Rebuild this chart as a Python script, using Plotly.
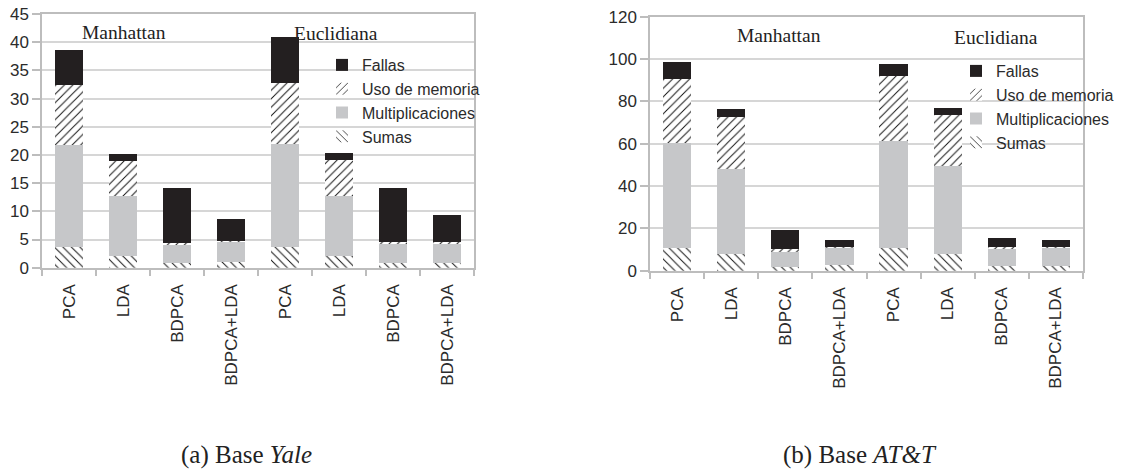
import plotly.graph_objects as go

# Categories and distance groups shown on each panel
methods = ["PCA", "LDA", "BDPCA", "BDPCA+LDA"]
distances = ["Manhattan", "Euclidiana"]
tick_labels = methods * len(distances)

series_names = ["Sumas", "Multiplicaciones", "Uso de memoria", "Fallas"]

# Panel (a): Yale database
yale_sumas = [3.7, 2.1, 0.8, 1.1, 3.7, 2.1, 0.8, 0.8]
yale_mult = [18.1, 10.6, 3.3, 3.5, 18.3, 10.6, 3.5, 3.5]
yale_memoria = [10.6, 6.3, 0.2, 0.2, 10.7, 6.4, 0.2, 0.2]
yale_fallas = [6.2, 1.2, 9.9, 3.8, 8.2, 1.3, 9.7, 4.9]

# Panel (b): AT&T database
att_sumas = [10.7, 8.0, 1.9, 2.5, 10.7, 8.0, 2.0, 2.0]
att_mult = [49.6, 40.0, 7.5, 8.4, 50.8, 41.3, 8.7, 8.9]
att_memoria = [30.4, 24.4, 0.7, 0.4, 30.3, 24.1, 0.5, 0.4]
att_fallas = [7.7, 4.1, 8.9, 3.3, 6.0, 3.6, 4.4, 3.0]

W, H = 1127, 471
GRID = "#d6d6d6"
AXIS = "#bdbdbd"
TXT = "#2b2b2b"
SANS = "Liberation Sans, Arial, sans-serif"
SERIF = "Liberation Serif, Times New Roman, serif"

styles = {
    "Sumas": dict(color="white", pattern=dict(shape="\\", fgcolor="#111111", bgcolor="white",
                                              size=6, solidity=0.16, fillmode="replace")),
    "Multiplicaciones": dict(color="#c6c7c9"),
    "Uso de memoria": dict(color="white", pattern=dict(shape="/", fgcolor="#111111", bgcolor="white",
                                                       size=6, solidity=0.16, fillmode="replace")),
    "Fallas": dict(color="#231f20"),
}

x_pos = list(range(len(tick_labels)))

fig = go.Figure()


def add_panel(values, xa, ya, legend_id):
    for name, vals in zip(series_names, values):
        fig.add_trace(go.Bar(
            x=x_pos, y=vals, name=name, width=0.52,
            marker=dict(line=dict(width=0), **styles[name]),
            xaxis=xa, yaxis=ya, legend=legend_id,
        ))


add_panel([yale_sumas, yale_mult, yale_memoria, yale_fallas], "x", "y", "legend")
add_panel([att_sumas, att_mult, att_memoria, att_fallas], "x2", "y2", "legend2")


def xaxis_style(domain):
    return dict(
        domain=domain, range=[-0.5, len(tick_labels) - 0.5],
        tickmode="array", tickvals=x_pos, ticktext=tick_labels, tickangle=-90,
        ticks="outside", ticklen=8, tickcolor="rgba(0,0,0,0)",
        minor=dict(tickmode="linear", tick0=-0.5, dtick=1, ticks="outside",
                   ticklen=7, tickcolor=AXIS, tickwidth=1.5),
        showgrid=False, zeroline=False, automargin=False,
        showline=True, linecolor=AXIS, linewidth=1.5, mirror=True,
        tickfont=dict(family=SANS, size=17, color=TXT),
        fixedrange=True,
    )


def yaxis_style(domain, top, step, anchor):
    return dict(
        domain=domain, range=[0, top], dtick=step, anchor=anchor,
        ticks="outside", ticklen=8, tickcolor=AXIS, tickwidth=1.5,
        showgrid=True, gridcolor=GRID, gridwidth=1.5, zeroline=False,
        showline=True, linecolor=AXIS, linewidth=1.5, mirror=True,
        automargin=False,
        tickfont=dict(family=SANS, size=17, color=TXT),
        fixedrange=True,
    )


fig.update_layout(
    width=W, height=H,
    margin=dict(l=0, r=0, t=0, b=0, autoexpand=False),
    paper_bgcolor="white", plot_bgcolor="white",
    barmode="stack", bargap=0.48,
    xaxis=dict(anchor="y", **xaxis_style([42 / W, 474 / W])),
    yaxis=yaxis_style([1 - 267.7 / H, 1 - 14 / H], 45, 5, "x"),
    xaxis2=dict(anchor="y2", **xaxis_style([650 / W, 1083 / W])),
    yaxis2=yaxis_style([1 - 270.7 / H, 1 - 16.7 / H], 120, 20, "x2"),
    legend=dict(x=322 / W, y=1 - 48 / H, xanchor="left", yanchor="top",
                traceorder="reversed", bgcolor="rgba(0,0,0,0)",
                font=dict(family=SANS, size=16, color=TXT),
                itemwidth=30, tracegroupgap=0),
    legend2=dict(x=956 / W, y=1 - 54 / H, xanchor="left", yanchor="top",
                 traceorder="reversed", bgcolor="rgba(0,0,0,0)",
                 font=dict(family=SANS, size=16, color=TXT),
                 itemwidth=30, tracegroupgap=0),
    showlegend=True,
)

# Distance labels above each group of bars
group_labels = [
    ("x", "y", 1.02, 41.8, distances[0]),
    ("x", "y", 4.95, 41.6, distances[1]),
    ("x2", "y2", 1.88, 111.3, distances[0]),
    ("x2", "y2", 5.9, 110.0, distances[1]),
]
for xr, yr, xv, yv, txt in group_labels:
    fig.add_annotation(x=xv, y=yv, xref=xr, yref=yr, text=txt, showarrow=False,
                       font=dict(family=SERIF, size=19.5, color="#222222"),
                       xanchor="center", yanchor="middle")

# Panel captions
captions = [
    (246.5, "(a) Base <i>Yale</i>"),
    (859.5, "(b) Base <i>AT&amp;T</i>"),
]
for cx, txt in captions:
    fig.add_annotation(x=cx / W, y=1 - 455 / H, xref="paper", yref="paper", text=txt,
                       showarrow=False, font=dict(family=SERIF, size=25, color="#222222"),
                       xanchor="center", yanchor="middle")

fig.write_html("out.html")
